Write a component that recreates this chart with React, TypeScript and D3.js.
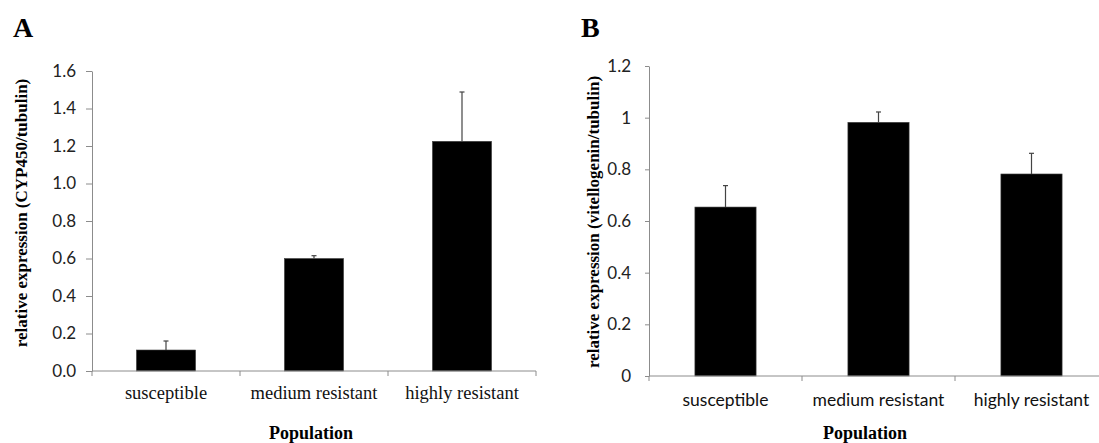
import * as d3 from "d3";
import { useRef, useEffect } from "react";

// population groups on the x axis
const populations = ["susceptible", "medium resistant", "highly resistant"];

// panel A: CYP450 / tubulin
const cypMeans = [0.112, 0.6, 1.225];
const cypErrors = [0.048, 0.015, 0.263];
const cypTicks = [0, 0.2, 0.4, 0.6, 0.8, 1.0, 1.2, 1.4, 1.6];

// panel B: vitellogenin / tubulin
const vitMeans = [0.654, 0.982, 0.782];
const vitErrors = [0.083, 0.04, 0.08];
const vitTicks = [0, 0.2, 0.4, 0.6, 0.8, 1, 1.2];

const AXIS_GRAY = "#8c8c8c";
const SANS = "Lato, 'Open Sans', sans-serif";
const SERIF = "'Liberation Serif', 'Times New Roman', serif";

function drawPanel(svg, opts) {
  const {
    letter, letterX, x0, x1, yTop, yBottom, maxY, ticks, means, errors,
    yLabel, yLabelX, yLabelY, tickFmt, tickSize, tickPad, tickFont,
    catFont, catFontSize, catY, popX
  } = opts;

  const g = svg.append("g");

  const x = d3.scaleBand()
    .domain(populations)
    .range([x0, x1])
    .paddingInner(0.6)
    .paddingOuter(0.3);

  const y = d3.scaleLinear().domain([0, maxY]).range([yBottom, yTop]);

  const step = x.step();

  // y axis
  const yAxis = g.append("g")
    .attr("transform", `translate(${x0},0)`)
    .call(d3.axisLeft(y).tickValues(ticks).tickFormat(tickFmt).tickSize(tickSize).tickPadding(tickPad).tickSizeOuter(0));
  yAxis.select(".domain").attr("stroke", AXIS_GRAY);
  yAxis.selectAll(".tick line").attr("stroke", AXIS_GRAY);
  yAxis.selectAll(".tick text")
    .attr("fill", "#222")
    .style("font-family", SANS)
    .style("font-size", `${tickFont}px`);

  // bars
  g.append("g")
    .selectAll("rect")
    .data(means)
    .join("rect")
    .attr("x", (d, i) => x(populations[i]))
    .attr("y", (d) => y(d))
    .attr("width", x.bandwidth())
    .attr("height", (d) => yBottom - y(d))
    .attr("fill", "#000")
    .attr("stroke", "#444")
    .attr("stroke-width", 0.6);

  // error bars (upper only)
  const eb = g.append("g").attr("stroke", "#444").attr("stroke-width", 1.2);
  means.forEach((m, i) => {
    const cx = x(populations[i]) + x.bandwidth() / 2;
    eb.append("line").attr("x1", cx).attr("x2", cx).attr("y1", y(m)).attr("y2", y(m + errors[i]));
    eb.append("line").attr("x1", cx - 2.5).attr("x2", cx + 2.5).attr("y1", y(m + errors[i])).attr("y2", y(m + errors[i]));
  });

  // x axis line with ticks between categories
  g.append("line")
    .attr("x1", x0).attr("x2", x1)
    .attr("y1", yBottom).attr("y2", yBottom)
    .attr("stroke", AXIS_GRAY);
  g.append("g")
    .selectAll("line")
    .data(d3.range(populations.length + 1))
    .join("line")
    .attr("x1", (i) => x0 + i * step)
    .attr("x2", (i) => x0 + i * step)
    .attr("y1", yBottom)
    .attr("y2", yBottom + 5)
    .attr("stroke", AXIS_GRAY);

  // category labels
  g.append("g")
    .selectAll("text")
    .data(populations)
    .join("text")
    .attr("x", (d) => x(d) + x.bandwidth() / 2)
    .attr("y", catY)
    .attr("text-anchor", "middle")
    .attr("fill", "#111")
    .style("font-family", catFont)
    .style("font-size", `${catFontSize}px`)
    .text((d) => d);

  // axis titles
  g.append("text")
    .attr("transform", `translate(${yLabelX},${yLabelY}) rotate(-90)`)
    .attr("text-anchor", "middle")
    .style("font-family", SERIF)
    .style("font-weight", "bold")
    .style("font-size", "17px")
    .text(yLabel);

  g.append("text")
    .attr("x", popX)
    .attr("y", 439)
    .attr("text-anchor", "middle")
    .style("font-family", SERIF)
    .style("font-weight", "bold")
    .style("font-size", "18px")
    .text("Population");

  // panel letter
  g.append("text")
    .attr("x", letterX)
    .attr("y", 37)
    .style("font-family", SERIF)
    .style("font-weight", "bold")
    .style("font-size", "28px")
    .text(letter);
}

export default function App() {
  const svgRef = useRef(null);

  useEffect(() => {
    const svg = d3.select(svgRef.current);
    svg.selectAll("*").remove();

    drawPanel(svg, {
      letter: "A", letterX: 13,
      x0: 92, x1: 536, yTop: 71, yBottom: 371, maxY: 1.6,
      ticks: cypTicks, means: cypMeans, errors: cypErrors,
      yLabel: "relative expression (CYP450/tubulin)", yLabelX: 27, yLabelY: 213,
      tickFmt: d3.format(".1f"), tickSize: 6, tickPad: 10, tickFont: 17,
      catFont: SERIF, catFontSize: 18.5, catY: 399, popX: 311
    });

    drawPanel(svg, {
      letter: "B", letterX: 581,
      x0: 649, x1: 1108, yTop: 66, yBottom: 376, maxY: 1.2,
      ticks: vitTicks, means: vitMeans, errors: vitErrors,
      yLabel: "relative expression (vitellogenin/tubulin)", yLabelX: 599, yLabelY: 222,
      tickFmt: d3.format("~g"), tickSize: 4, tickPad: 14, tickFont: 17,
      catFont: SANS, catFontSize: 17.5, catY: 406, popX: 865
    });
  }, []);

  return (
    <svg
      ref={svgRef}
      width={1099}
      height={443}
      style={{ position: "absolute", left: 0, top: 0, background: "#fff" }}
    />
  );
}
